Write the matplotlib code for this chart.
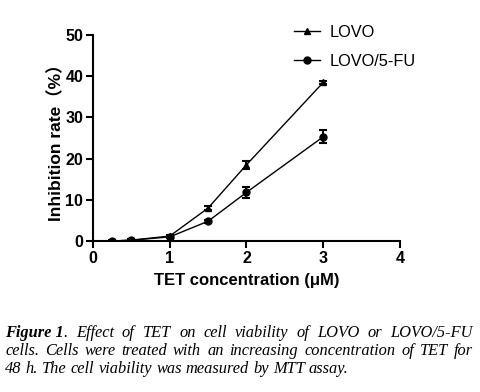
import matplotlib.pyplot as plt
from matplotlib.lines import Line2D

conc = [0.25, 0.5, 1, 1.5, 2, 3]
lovo = [0.0, 0.2, 1.2, 8.0, 18.5, 38.5]
lovo_err = [0.2, 0.2, 0.3, 0.4, 1.0, 0.4]
lovo5fu = [0.0, 0.2, 1.0, 4.8, 11.8, 25.3]
lovo5fu_err = [0.2, 0.2, 0.3, 0.4, 1.3, 1.6]

caption = [
    ("Figure 1", ". Effect of TET on cell viability of LOVO or LOVO/5-FU"),
    ("", "cells. Cells were treated with an increasing concentration of TET for"),
    ("", "48 h. The cell viability was measured by MTT assay."),
]

plt.rcParams['font.family'] = ['Liberation Sans', 'DejaVu Sans']

fig = plt.figure(figsize=(4.8, 3.92), dpi=100)
ax = fig.add_axes([93 / 480, 1 - 241 / 392, 307 / 480, 206 / 392])

ax.errorbar(conc, lovo, yerr=lovo_err, color='black', marker='^', ms=5,
            lw=1.0, elinewidth=1.5, capsize=3, capthick=1.5)
ax.errorbar(conc, lovo5fu, yerr=lovo5fu_err, color='black', marker='o', ms=5,
            lw=1.0, elinewidth=1.5, capsize=3, capthick=1.5)

ax.set_xlim(0, 4)
ax.set_ylim(0, 50)
ax.set_xticks([0, 1, 2, 3, 4])
ax.set_yticks([0, 10, 20, 30, 40, 50])
for s in ['top', 'right']:
    ax.spines[s].set_visible(False)
for s in ['left', 'bottom']:
    ax.spines[s].set_linewidth(1.5)
ax.tick_params(width=1.5, length=5, labelsize=11.5, pad=2)
for lab in ax.get_xticklabels() + ax.get_yticklabels():
    lab.set_fontweight('bold')
ax.set_xlabel('TET concentration (μM)', fontsize=12, fontweight='bold', labelpad=5)
ax.set_ylabel('Inhibition rate（%）', fontsize=12.5, fontweight='bold', labelpad=1,
              family=['Liberation Sans', 'Noto Sans CJK SC'])

handles = [Line2D([], [], color='black', marker='^', ms=5, lw=1.0),
           Line2D([], [], color='black', marker='o', ms=5, lw=1.0)]
fig.legend(handles, ['LOVO', 'LOVO/5-FU'], loc='upper left',
           bbox_to_anchor=(279 / 480, 1 - 10 / 392), frameon=False,
           fontsize=11.8, handlelength=1.6, handletextpad=0.6, labelspacing=0.85)

# caption, justified
fig.canvas.draw()
r = fig.canvas.get_renderer()
x0, x1 = 5, 473
ys = [337, 355, 373]
fp = dict(family='Liberation Serif', style='italic', fontsize=11.8)
for i, (bold, rest) in enumerate(caption):
    y = 1 - ys[i] / 392
    if bold:
        rest_words = rest.split(' ')
        words = [bold + rest_words[0]] + rest_words[1:]
    else:
        words = rest.split(' ')
    texts = []
    for j, w in enumerate(words):
        if j == 0 and bold:
            t1 = fig.text(0, y, bold, fontweight='bold', **fp)
            t2 = fig.text(0, y, w[len(bold):], **fp)
            texts.append([t1, t2])
        else:
            texts.append([fig.text(0, y, w, **fp)])
    widths = [[t.get_window_extent(r).width for t in grp] for grp in texts]
    total = sum(sum(ws) for ws in widths)
    if i < 2:
        gap = (x1 - x0 - total) / (len(texts) - 1)
    else:
        gap = fp['fontsize'] * 0.35
    x = x0
    for grp, ws in zip(texts, widths):
        for t, w in zip(grp, ws):
            t.set_x(x / 480)
            x += w
        x += gap

fig.savefig('out.png', dpi=100)
